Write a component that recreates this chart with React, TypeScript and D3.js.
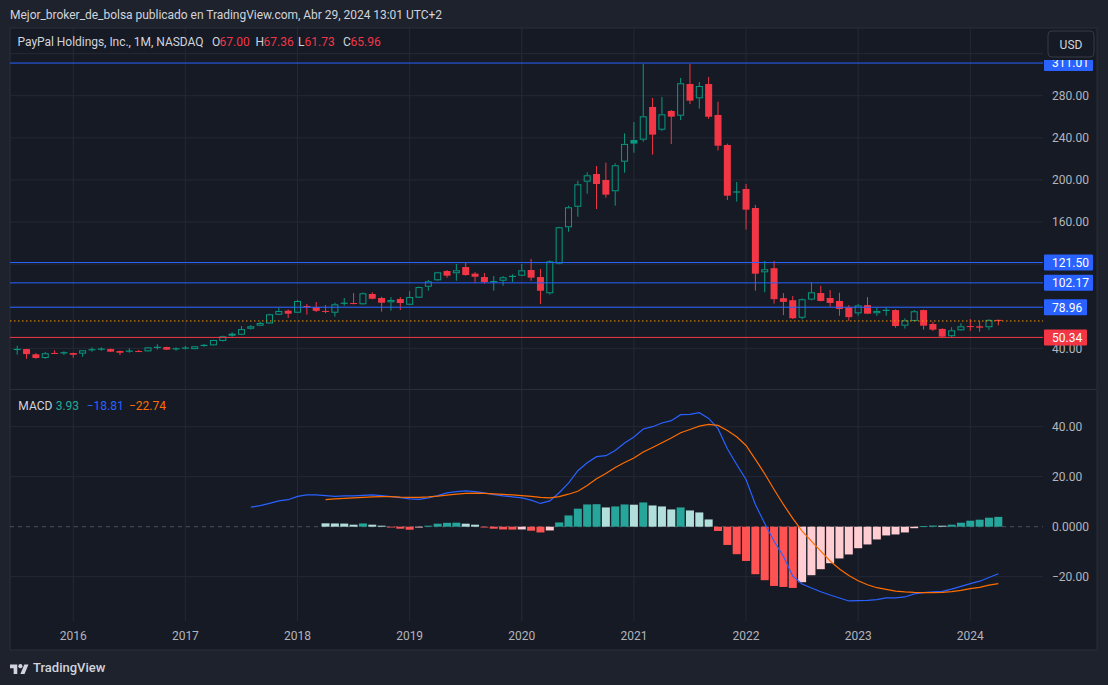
import React from 'react';
import * as d3 from 'd3';

// ---------- DATA (PayPal monthly, Jul 2015 – Apr 2024) ----------
const firstMonth = new Date(2015, 6, 1);
const months = d3.timeMonth.range(firstMonth, new Date(2024, 4, 1));

const open = [
  38.8, 39.3, 34.3, 30.8, 35.6, 35.2,
  35.5, 34.9, 38.5, 39.0, 39.3, 37.4, 37.2, 37.4, 37.1, 40.8, 41.2, 39.4,
  40.0, 39.2, 42.6, 42.8, 47.0, 53.9, 52.9, 58.6, 61.5, 63.6, 71.9, 75.7,
  73.8, 80.2, 79.2, 75.5, 73.8, 82.6, 83.0, 81.8, 91.6, 87.8, 83.7, 86.8,
  81.4, 88.1, 98.5, 104.6, 113.4, 111.3, 117.2, 110.9, 107.7, 103.1, 104.2, 108.2,
  109.0, 114.4, 107.7, 92.3, 120.5, 155.0, 174.5, 198.3, 205.6, 199.9, 189.2, 217.3,
  237.9, 238.2, 269.3, 247.7, 265.5, 261.0, 291.1, 277.5, 291.1, 261.7, 233.2, 188.0,
  191.4, 173.3, 112.2, 116.1, 87.6, 85.7, 69.0, 86.3, 92.5, 87.8, 85.0, 79.1,
  73.2, 81.0, 73.3, 75.9, 76.3, 61.5, 66.0, 76.3, 63.1, 58.4, 51.5, 57.1,
  61.1, 60.9, 60.0, 67.0,
];
const high = [
  42.5, 39.5, 35.5, 36.5, 38.1, 37.1,
  35.8, 38.3, 40.9, 40.9, 39.8, 37.8, 40.0, 38.4, 41.2, 43.8, 41.6, 40.9,
  42.2, 42.1, 44.1, 48.2, 52.0, 55.2, 61.2, 62.1, 65.3, 72.8, 78.6, 77.0,
  85.9, 82.1, 84.0, 81.1, 83.3, 87.8, 92.5, 93.0, 93.2, 89.0, 88.7, 88.7,
  94.4, 98.6, 104.9, 112.6, 114.4, 120.1, 121.7, 112.5, 111.5, 108.7, 108.7, 110.3,
  120.1, 124.9, 115.3, 123.5, 155.5, 175.5, 199.0, 207.2, 213.2, 216.3, 215.8, 244.3,
  255.0, 310.1, 277.8, 278.8, 266.4, 296.8, 310.2, 293.0, 297.8, 274.3, 234.4, 198.0,
  196.1, 176.2, 123.0, 123.0, 92.4, 89.7, 87.5, 103.0, 99.3, 95.3, 92.8, 81.0,
  82.0, 88.6, 78.6, 79.0, 77.0, 68.5, 76.4, 76.8, 65.2, 59.0, 60.0, 63.8,
  67.8, 65.9, 67.8, 67.36,
];
const low = [
  34.0, 30.0, 30.0, 30.0, 34.5, 33.6,
  31.1, 32.0, 36.8, 37.7, 36.6, 33.6, 35.8, 36.6, 36.8, 38.7, 38.5, 37.7,
  39.0, 39.0, 41.5, 42.5, 46.5, 51.0, 52.5, 57.7, 61.0, 63.2, 71.5, 68.8,
  73.5, 72.0, 74.5, 73.3, 70.0, 80.5, 81.8, 81.5, 86.5, 74.8, 75.7, 76.4,
  81.0, 87.8, 94.7, 104.0, 107.1, 104.2, 109.0, 102.3, 101.4, 94.7, 99.5, 103.0,
  108.5, 104.2, 82.1, 91.0, 119.8, 150.8, 165.0, 186.9, 172.3, 183.1, 175.5, 206.8,
  225.8, 236.3, 224.0, 246.5, 234.1, 256.9, 272.0, 267.7, 257.9, 228.0, 180.9, 179.3,
  152.7, 94.7, 93.2, 82.4, 71.5, 67.8, 67.5, 85.5, 84.5, 79.6, 70.9, 66.2,
  71.0, 72.5, 70.9, 71.0, 59.6, 58.8, 65.5, 57.7, 56.5, 50.1, 50.4, 56.6,
  56.5, 55.8, 57.5, 61.73,
];
const close = [
  39.0, 34.5, 30.8, 35.3, 35.0, 35.8,
  33.9, 38.1, 38.7, 39.3, 36.8, 35.8, 37.4, 36.8, 40.9, 41.0, 38.7, 39.6,
  40.3, 41.9, 42.8, 47.9, 51.4, 52.0, 58.2, 60.9, 64.0, 72.3, 75.4, 72.9,
  85.0, 79.8, 75.6, 75.2, 81.8, 82.9, 82.7, 92.3, 87.1, 83.3, 85.9, 83.0,
  88.7, 98.2, 103.6, 112.2, 109.0, 114.1, 109.6, 108.0, 103.0, 103.4, 107.5, 108.4,
  114.1, 107.1, 94.7, 122.6, 155.0, 174.0, 195.8, 204.4, 196.1, 186.0, 213.9, 234.2,
  234.5, 260.4, 243.0, 262.3, 260.1, 291.8, 275.3, 289.2, 260.0, 232.5, 185.0, 188.6,
  171.7, 110.9, 115.1, 86.7, 84.1, 68.5, 86.6, 93.2, 85.0, 83.1, 77.4, 69.6,
  80.7, 72.9, 75.5, 76.1, 61.2, 66.6, 75.2, 61.5, 57.7, 51.1, 57.1, 60.9,
  60.8, 59.6, 67.0, 65.96,
];

// MACD(12,26,9) values
const macdStart = 25; // Aug 2017
const macdLine = [
  7.8, 8.4, 9.3, 10.3, 10.8, 12.1, 12.7, 12.7,
  12.4, 12.1, 12.3, 12.3, 12.5, 12.7, 12.4, 12.0, 11.6, 11.1, 10.9, 11.5,
  12.4, 13.5, 14.0, 14.3, 14.0, 13.5, 12.8, 12.3, 11.9, 11.5, 10.6, 9.3,
  10.3, 13.6, 17.4, 22.4, 25.6, 28.0, 28.4, 30.5, 33.5, 35.9, 39.1, 40.0,
  41.5, 42.4, 44.8, 44.9, 45.6, 43.3, 39.2, 31.2, 24.9, 18.9, 8.9, 1.3,
  -5.8, -11.8, -19.8, -22.9, -24.5, -26.0, -27.3, -28.5, -29.7, -29.6, -29.5, -29.2,
  -28.5, -28.5, -28.1, -26.9, -26.4, -26.1, -25.9, -25.0, -23.9, -22.8, -21.8, -20.3,
  -18.81,
];
const signalStart = 33; // Apr 2018
const signalLine = [
  10.8, 11.1, 11.3, 11.5, 11.7, 11.9, 12.0, 12.0, 11.8, 11.7, 11.7, 11.9,
  12.2, 12.6, 13.0, 13.3, 13.4, 13.3, 13.1, 12.9, 12.7, 12.4, 12.1, 11.7,
  11.5, 12.0, 13.0, 14.2, 16.5, 19.2, 21.3, 23.7, 25.7, 27.5, 29.9, 31.7,
  33.6, 35.5, 37.6, 38.9, 40.2, 40.9, 40.5, 38.5, 36.0, 32.5, 26.9, 21.2,
  14.9, 8.9, 3.3, -1.8, -5.8, -9.8, -13.7, -16.9, -19.5, -21.6, -23.2, -24.4,
  -25.1, -25.8, -26.1, -26.3, -26.4, -26.4, -26.3, -26.0, -25.5, -24.8, -24.3, -23.4,
  -22.74,
];
const histogram = [
  1.35, 1.3, 1.25, 0.8, 1.3, 0.8, 0.4, -0.2, -0.8, -1.2, -0.3, 0.4,
  1.2, 1.55, 1.6, 1.2, 0.8, -0.2, -0.8, -1.1, -1.15, -1.1, -1.6, -2.3,
  -1.5, 1.7, 4.5, 7.2, 8.9, 9.0, 7.7, 8.1, 8.9, 8.8, 9.7, 8.5,
  8.1, 6.9, 7.7, 6.5, 5.7, 2.9, -1.7, -7.3, -11.0, -13.7, -19.0, -21.4,
  -23.7, -24.1, -24.5, -22.2, -19.4, -17.0, -14.6, -12.7, -11.1, -8.6, -7.1, -5.1,
  -3.5, -3.1, -2.3, -0.6, 0.2, 0.45, 0.4, 0.8, 1.6, 2.4, 2.8, 3.6,
  3.93,
];

const yearTicks = [2016, 2017, 2018, 2019, 2020, 2021, 2022, 2023, 2024];
const priceGrid = [40, 80, 120, 160, 200, 240, 280, 320];
const priceAxisLabels = [280, 240, 200, 160, 40];
const macdGrid = [40, 20, -20];
const macdAxisLabels = [40, 20, 0, -20];
const resistanceLevels = [311.01, 121.5, 102.17, 78.96];
const supportLevel = 50.34;
const lastClose = 65.96;
const ohlcLegend = { o: '67.00', h: '67.36', l: '61.73', c: '65.96' };
const macdLegend = { hist: '3.93', macd: '\u221218.81', signal: '\u221222.74' };

// ---------- STYLE ----------
const FONT = "Roboto, 'Noto Sans', 'DejaVu Sans', sans-serif";
const C = {
  outer: '#1e222d',
  pane: '#161a25',
  grid: '#252934',
  border: '#2a2e39',
  text: '#d1d4dc',
  axis: '#b2b5be',
  up: '#089981',
  down: '#f23645',
  blue: '#2962ff',
  orange: '#ff6d00',
  lastPrice: '#ff9800',
  histUpGrow: '#26a69a',
  histUpFall: '#b2dfdb',
  histDnGrow: '#ff5252',
  histDnFall: '#ffcdd2',
};

const PANE_L = 10, PANE_R = 1043, TOP = 28, SEP = 389.5, MACD_B = 621, BOTTOM = 650, RIGHT = 1097;

export default function App() {
  React.useEffect(() => {
    document.body.style.margin = '0';
    document.body.style.background = C.outer;
  }, []);

  const x = d3.scaleLinear().domain([0, months.length - 1]).range([17.2, 17.2 + (months.length - 1) * 9.344]);
  const yP = d3.scaleLinear().domain([40, 280]).range([348.3, 95.7]);
  const yM = d3.scaleLinear().domain([-20, 40]).range([576.7, 426.7]);

  const idxOfYear = (yr: number) => months.findIndex(m => m.getFullYear() === yr && m.getMonth() === 0);

  const candles = months.map((m, i) => {
    const o = open[i], c = close[i], h = high[i], l = low[i];
    const prev = i > 0 ? close[i - 1] : o;
    const col = c >= prev ? C.up : C.down;
    const hollow = c > o;
    const cx = x(i);
    const top = yP(Math.max(o, c));
    const bot = yP(Math.min(o, c));
    const bh = Math.max(bot - top, 1);
    const key = 'c' + i;
    if (hollow) {
      if (bh < 2.2) {
        return (
          <g key={key}>
            <line x1={cx} x2={cx} y1={yP(h)} y2={yP(l)} stroke={col} strokeWidth={1} />
            <rect x={cx - 3.5} y={top - 0.5} width={7} height={Math.max(bh, 1.2)} fill={col} />
          </g>
        );
      }
      return (
        <g key={key}>
          <line x1={cx} x2={cx} y1={yP(h)} y2={top} stroke={col} strokeWidth={1} />
          <line x1={cx} x2={cx} y1={bot} y2={yP(l)} stroke={col} strokeWidth={1} />
          <rect x={cx - 3} y={top + 0.5} width={6} height={bh - 1} fill="none" stroke={col} strokeWidth={1} />
        </g>
      );
    }
    return (
      <g key={key}>
        <line x1={cx} x2={cx} y1={yP(h)} y2={yP(l)} stroke={col} strokeWidth={1} />
        <rect x={cx - 3.5} y={top} width={7} height={bh} fill={col} />
      </g>
    );
  });

  const macdPath = d3.line<number>().x((_, i) => x(i + macdStart)).y(d => yM(d))(macdLine) || '';
  const signalPath = d3.line<number>().x((_, i) => x(i + signalStart)).y(d => yM(d))(signalLine) || '';

  const bars = histogram.map((v, i) => {
    const prev = i > 0 ? histogram[i - 1] : NaN;
    let col;
    if (v >= 0) col = prev < v ? C.histUpGrow : C.histUpFall;
    else col = prev < v ? C.histDnFall : C.histDnGrow;
    const cx = x(i + signalStart);
    const y0 = yM(0), y1 = yM(v);
    return <rect key={'h' + i} x={cx - 4} y={Math.min(y0, y1)} width={8} height={Math.max(Math.abs(y1 - y0), 0.8)} fill={col} />;
  });

  const fmt = (v: number) => v.toFixed(2);
  const labelW = (s: string) => (s.length >= 6 ? 49 : 43);

  return (
    <div style={{ position: 'absolute', left: 0, top: 0 }}>
      <svg width={1108} height={685} style={{ display: 'block', fontFamily: FONT }}>
        <defs>
          <clipPath id="pp"><rect x={PANE_L} y={TOP} width={PANE_R - PANE_L} height={SEP - TOP} /></clipPath>
          <clipPath id="mp"><rect x={PANE_L} y={SEP} width={PANE_R - PANE_L} height={MACD_B - SEP} /></clipPath>
          <clipPath id="lab"><rect x={PANE_R} y={60} width={RIGHT - PANE_R} height={SEP - 60} /></clipPath>
        </defs>
        <rect x={0} y={0} width={1108} height={685} fill={C.outer} />
        <text x={10} y={18.5} fontSize={12} fill={C.text} textLength={432} lengthAdjust="spacing">
          Mejor_broker_de_bolsa publicado en TradingView.com, Abr 29, 2024 13:01 UTC+2
        </text>

        {/* widget */}
        <rect x={PANE_L} y={TOP} width={RIGHT - PANE_L} height={BOTTOM - TOP} fill={C.pane} stroke={C.border} strokeWidth={1} />

        {/* vertical year grid */}
        {yearTicks.map(yr => (
          <line key={'vg' + yr} x1={x(idxOfYear(yr))} x2={x(idxOfYear(yr))} y1={TOP} y2={MACD_B} stroke={C.grid} strokeWidth={1} />
        ))}
        {/* price grid */}
        {priceGrid.map(p => (
          <line key={'pg' + p} x1={PANE_L} x2={PANE_R} y1={yP(p)} y2={yP(p)} stroke={C.grid} strokeWidth={1} />
        ))}
        {/* macd grid */}
        {macdGrid.map(v => (
          <line key={'mg' + v} x1={PANE_L} x2={PANE_R} y1={yM(v)} y2={yM(v)} stroke={C.grid} strokeWidth={1} />
        ))}
        <line x1={PANE_L} x2={RIGHT} y1={SEP} y2={SEP} stroke={C.border} strokeWidth={1.2} />

        {/* price pane */}
        <g clipPath="url(#pp)">
          {candles}
          <line x1={PANE_L} x2={PANE_R} y1={yP(lastClose)} y2={yP(lastClose)} stroke={C.lastPrice} strokeWidth={1} strokeDasharray="1.5 2.5" />
          {resistanceLevels.map(p => (
            <line key={'rl' + p} x1={PANE_L} x2={PANE_R} y1={yP(p)} y2={yP(p)} stroke={C.blue} strokeWidth={1} />
          ))}
          <line x1={PANE_L} x2={PANE_R} y1={yP(supportLevel)} y2={yP(supportLevel)} stroke={C.down} strokeWidth={1} />
        </g>

        {/* legend */}
        <g fontSize={12}>
          <text x={17.5} y={45.5} fill={C.text} textLength={186} lengthAdjust="spacing">PayPal Holdings, Inc., 1M, NASDAQ</text>
          <text x={212} y={45.5} fill={C.text}>O</text>
          <text x={219.5} y={45.5} fill={C.down}>{ohlcLegend.o}</text>
          <text x={255.5} y={45.5} fill={C.text}>H</text>
          <text x={263.5} y={45.5} fill={C.down}>{ohlcLegend.h}</text>
          <text x={298} y={45.5} fill={C.text}>L</text>
          <text x={304.5} y={45.5} fill={C.down}>{ohlcLegend.l}</text>
          <text x={343} y={45.5} fill={C.text}>C</text>
          <text x={350.5} y={45.5} fill={C.down}>{ohlcLegend.c}</text>
        </g>

        {/* price axis */}
        <g fontSize={12} fill={C.axis}>
          {priceAxisLabels.map(p => (
            <text key={'pl' + p} x={1052} y={yP(p) + 4.3}>{fmt(p)}</text>
          ))}
        </g>
        <g clipPath="url(#lab)" fontSize={12}>
          {resistanceLevels.map(p => {
            const s = fmt(p);
            return (
              <g key={'rb' + p}>
                <rect x={1044} y={yP(p) - 8} width={labelW(s)} height={16} fill={C.blue} rx={1} />
                <text x={1052} y={yP(p) + 4.3} fill="#ffffff">{s}</text>
              </g>
            );
          })}
          <rect x={1044} y={yP(supportLevel) - 8} width={labelW(fmt(supportLevel))} height={16} fill={C.down} rx={1} />
          <text x={1052} y={yP(supportLevel) + 4.3} fill="#ffffff">{fmt(supportLevel)}</text>
        </g>
        <rect x={1048} y={31} width={46} height={26} rx={4} fill={C.pane} stroke="#363a45" strokeWidth={1} />
        <text x={1071} y={48.5} fontSize={12} fill={C.text} textAnchor="middle">USD</text>

        {/* MACD pane */}
        <g clipPath="url(#mp)">
          <line x1={PANE_L} x2={PANE_R} y1={yM(0)} y2={yM(0)} stroke="#787b86" strokeOpacity={0.55} strokeWidth={1} strokeDasharray="4 4" />
          {bars}
          <path d={macdPath} fill="none" stroke={C.blue} strokeWidth={1.2} />
          <path d={signalPath} fill="none" stroke={C.orange} strokeWidth={1.2} />
        </g>
        <g fontSize={12}>
          <text x={18.3} y={409.5} fill={C.text}>MACD</text>
          <text x={55.7} y={409.5} fill="#22ab94">{macdLegend.hist}</text>
          <text x={86.7} y={409.5} fill={C.blue}>{macdLegend.macd}</text>
          <text x={129} y={409.5} fill={C.orange}>{macdLegend.signal}</text>
        </g>
        <g fontSize={12} fill={C.axis}>
          {macdAxisLabels.map(v => (
            <text key={'ml' + v} x={1052} y={yM(v) + 4.3}>
              {v === 0 ? '0.0000' : (v < 0 ? '\u2212' : '') + Math.abs(v).toFixed(2)}
            </text>
          ))}
        </g>

        {/* time axis */}
        <g fontSize={12} fill={C.axis} textAnchor="middle">
          {yearTicks.map(yr => (
            <text key={'yl' + yr} x={x(idxOfYear(yr))} y={640}>{yr}</text>
          ))}
        </g>

        {/* logo */}
        <g transform="translate(10,662.5) scale(0.52)" fill={C.text}>
          <path d="M14 22H7V11H0V4h14v18zM28 22h-8l7.5-18h8L28 22z" />
          <circle cx={20} cy={7} r={4} />
        </g>
        <text x={33} y={672} fontSize={13} fontWeight={500} fill={C.text}>TradingView</text>
      </svg>
    </div>
  );
}
